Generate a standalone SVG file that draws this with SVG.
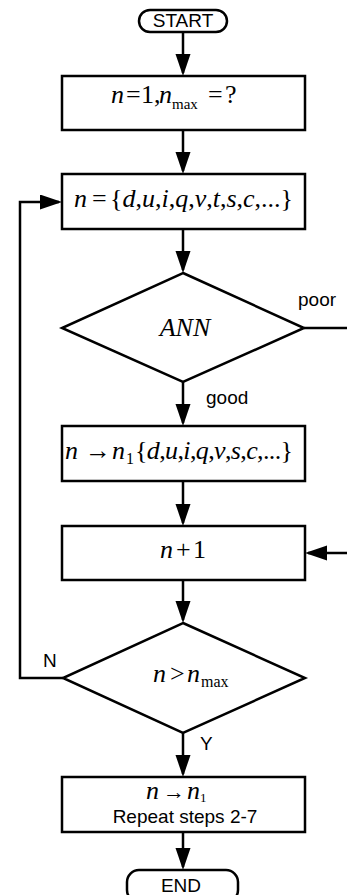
<svg xmlns="http://www.w3.org/2000/svg" width="347" height="895" viewBox="0 0 347 895">
<style>
.shape{fill:#fff;stroke:#000;stroke-width:2.5}
.conn{fill:none;stroke:#000;stroke-width:2.5}
.lbl{font-family:"Liberation Sans",Arial,sans-serif;font-size:19px;fill:#000}
.math{font-family:"Liberation Serif","Times New Roman",serif;font-size:26px;fill:#000}
.i{font-style:italic}
.sub{font-size:16px}
</style>
<defs>
<marker id="ah" markerUnits="userSpaceOnUse" markerWidth="24" markerHeight="16" refX="19" refY="7.5" orient="auto">
<path d="M0,0 L22,7.5 L0,15 Z" fill="#000"/>
</marker>
</defs>
<g id="connectors">
<line class="conn" x1="183" y1="32" x2="183" y2="73" marker-end="url(#ah)"/>
<line class="conn" x1="183" y1="130" x2="183" y2="171" marker-end="url(#ah)"/>
<line class="conn" x1="183" y1="229" x2="183" y2="270" marker-end="url(#ah)"/>
<line class="conn" x1="183" y1="382" x2="183" y2="423" marker-end="url(#ah)"/>
<line class="conn" x1="183" y1="481" x2="183" y2="523" marker-end="url(#ah)"/>
<line class="conn" x1="183" y1="580" x2="183" y2="620" marker-end="url(#ah)"/>
<line class="conn" x1="183" y1="733" x2="183" y2="774" marker-end="url(#ah)"/>
<line class="conn" x1="183" y1="832" x2="183" y2="867" marker-end="url(#ah)"/>
<line class="conn" x1="304" y1="328" x2="347" y2="328"/>
<line class="conn" x1="347" y1="553" x2="308" y2="553" marker-end="url(#ah)"/>
<polyline class="conn" points="63,678 20,678 20,202 59,202" marker-end="url(#ah)"/>
<text class="lbl" x="298" y="306">poor</text>
<text class="lbl" x="206" y="404">good</text>
<text class="lbl" x="43" y="667">N</text>
<text class="lbl" x="200" y="750">Y</text>
</g>
<g id="start">
<rect class="shape" x="139" y="10" width="88" height="22" rx="11"/>
<text class="lbl" x="183" y="27" text-anchor="middle" font-size="19">START</text>
</g>
<g id="init">
<rect class="shape" x="62" y="76" width="243" height="54"/>
<text class="math" y="103" font-size="24"><tspan class="i" x="111">n</tspan><tspan x="126">=</tspan><tspan x="141">1,</tspan><tspan class="i" x="159">n</tspan><tspan font-size="15" x="172" y="109">max</tspan><tspan x="208" y="103">=</tspan><tspan x="225">?</tspan></text>
</g>
<g id="set">
<rect class="shape" x="62" y="174" width="243" height="55"/>
<text class="math" y="207" font-size="27"><tspan class="i" x="74">n</tspan><tspan x="92">=</tspan></text>
<text class="math" x="110" y="207" font-size="27" textLength="183" lengthAdjust="spacing">{<tspan class="i">d</tspan>,<tspan class="i">u</tspan>,<tspan class="i">i</tspan>,<tspan class="i">q</tspan>,<tspan class="i">v</tspan>,<tspan class="i">t</tspan>,<tspan class="i">s</tspan>,<tspan class="i">c</tspan>,...}</text>
</g>
<g id="ann">
<polygon class="shape" points="183,273 304,328 183,382 62,328"/>
<text class="math i" x="185" y="336" text-anchor="middle" font-size="21">ANN</text>
</g>
<g id="select">
<rect class="shape" x="62" y="426" width="243" height="55"/>
<text class="math" y="459" font-size="27"><tspan class="i" x="65">n</tspan><tspan x="85">→</tspan><tspan class="i" x="112">n</tspan><tspan class="sub" x="126" y="464">1</tspan></text>
<text class="math" x="135" y="459" font-size="27" textLength="158" lengthAdjust="spacing">{<tspan class="i">d</tspan>,<tspan class="i">u</tspan>,<tspan class="i">i</tspan>,<tspan class="i">q</tspan>,<tspan class="i">v</tspan>,<tspan class="i">s</tspan>,<tspan class="i">c</tspan>,...}</text>
</g>
<g id="increment">
<rect class="shape" x="62" y="526" width="243" height="54"/>
<text class="math" y="558"><tspan class="i" x="160">n</tspan><tspan x="176">+</tspan><tspan x="193">1</tspan></text>
</g>
<g id="check">
<polygon class="shape" points="183,623 305,678 183,733 63,678"/>
<text class="math" y="682"><tspan class="i" x="153">n</tspan><tspan x="170">&gt;</tspan><tspan class="i" x="187">n</tspan><tspan class="sub" x="201" y="687">max</tspan></text>
</g>
<g id="repeat">
<rect class="shape" x="62" y="777" width="243" height="55"/>
<text class="math" y="799" font-size="20"><tspan class="i" x="146">n</tspan><tspan x="163" font-size="22">→</tspan><tspan class="i" x="187">n</tspan><tspan font-size="13" x="200" y="802">1</tspan></text>
<text class="lbl" x="185" y="823" text-anchor="middle">Repeat steps 2-7</text>
</g>
<g id="end">
<rect class="shape" x="127" y="870" width="111" height="32" rx="12"/>
<text class="lbl" x="181" y="892" text-anchor="middle" font-size="20">END</text>
</g>
</svg>
